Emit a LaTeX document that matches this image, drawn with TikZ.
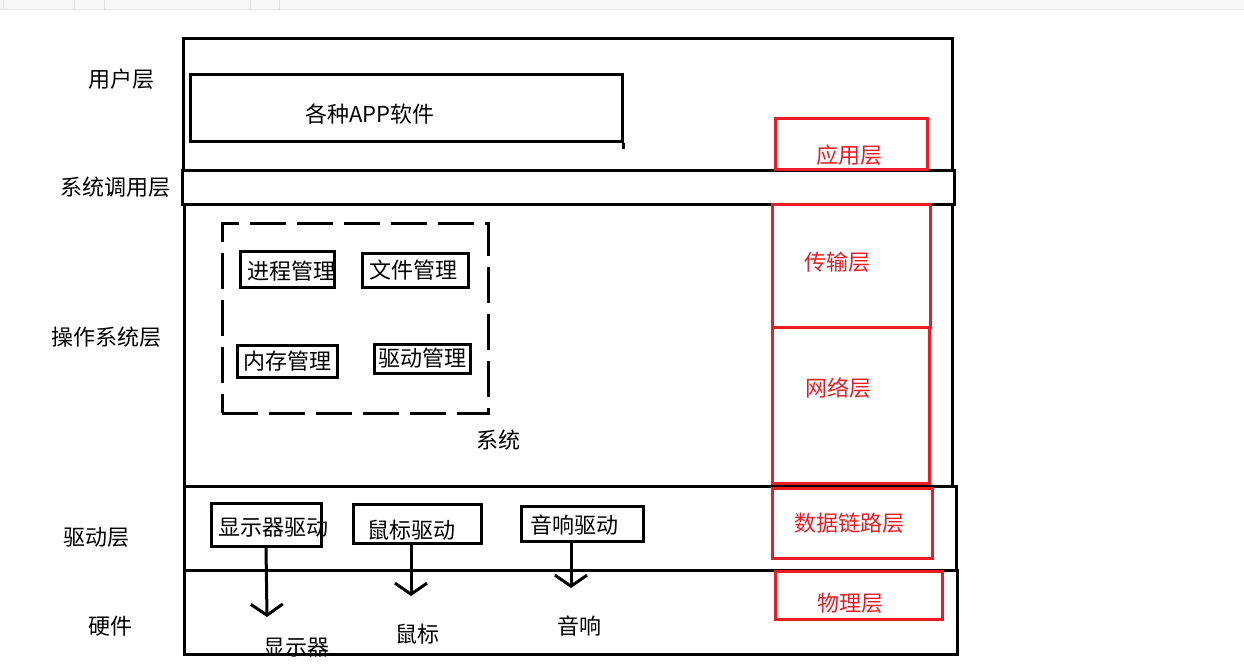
\documentclass[tikz,border=0pt]{standalone}
\usepackage{fontspec}
\setmainfont{Noto Sans CJK SC}
\usetikzlibrary{arrows.meta}
\definecolor{pred}{HTML}{ED1C24}
\definecolor{bandgray}{HTML}{F8F8F8}
\definecolor{bandline}{HTML}{E2E2E2}
\tikzset{
  box/.style={draw=black, line width=3pt, rectangle, inner sep=0pt},
  redbox/.style={draw=pred, line width=3pt, rectangle, inner sep=0pt},
  txt/.style={inner sep=0pt, font=\fontsize{22}{26}\selectfont, text=black},
  redtxt/.style={inner sep=0pt, font=\fontsize{22}{26}\selectfont, text=pred},
  arr/.style={line width=3pt, -{Straight Barb[length=11pt,width=32pt]}},
  dashbox/.style={draw=black, line width=3pt, dash pattern=on 36pt off 11pt}
}
\begin{document}
\begin{tikzpicture}[x=1pt,y=-1pt]
\useasboundingbox (0,0) rectangle (1244,670);
% top band of the screenshot
\fill[bandgray] (0,0) rectangle (1244,9);
\draw[bandline, line width=1pt] (0,9.5) -- (1244,9.5);
\foreach \sx in {3,74,104,250,279} \draw[bandline, line width=0.7pt] (\sx,0) -- (\sx,9);

% layer frames
\node[box, minimum width=769, minimum height=132] (user) at (567.5,104) {};
\node[box, minimum width=772, minimum height=34] (syscall) at (568,187) {};
\node[box, minimum width=768, minimum height=282] (os) at (568,345) {};
\node[box, minimum width=772, minimum height=84] (drv) at (570,528) {};
\node[box, minimum width=773, minimum height=84] (hw) at (570.5,612) {};

% left labels
\node[txt] (luser) at (121,79) {用户层};
\node[txt] (lsys) at (115,187) {系统调用层};
\node[txt] (los) at (106,337) {操作系统层};
\node[txt] (ldrv) at (96,537) {驱动层};
\node[txt] (lhw) at (110,626) {硬件};

% app box
\node[box, minimum width=432, minimum height=67] (app) at (406,107.5) {};
\draw[line width=3pt] (app.south east) -- ++(0,6);
\node[txt] (apptxt) at (370,114) {各种APP软件};

% system dashed box
\node[dashbox, minimum width=266, minimum height=190] (sysbox) at (355,318) {};
\node[txt] (systxt) at (498,440) {系统};

\node[box, minimum width=94, minimum height=36] (procbox) at (287,269) {};
\node[txt] (proc) at (291,271) {进程管理};
\node[box, minimum width=106, minimum height=34] (filebox) at (415,270) {};
\node[txt] (file) at (413,270) {文件管理};
\node[box, minimum width=100, minimum height=32] (membox) at (287,361) {};
\node[txt] (mem) at (287,361) {内存管理};
\node[box, minimum width=96, minimum height=29] (drvmbox) at (422,358.5) {};
\node[txt] (drvm) at (422,358) {驱动管理};

% driver boxes
\node[box, minimum width=110, minimum height=43] (dispbox) at (266,524.5) {};
\node[txt] (disp) at (273,527) {显示器驱动};
\node[box, minimum width=128, minimum height=39] (mousebox) at (417,523.5) {};
\node[txt] (mouse) at (411,530) {鼠标驱动};
\node[box, minimum width=122, minimum height=35] (soundbox) at (582,523.5) {};
\node[txt] (sound) at (574,525) {音响驱动};

% hardware
\node[txt] (dispdev) at (296,648) {显示器};
\node[txt] (mousedev) at (417,634) {鼠标};
\node[txt] (sounddev) at (579,626) {音响};

\coordinate (dispend) at (267,617);
\coordinate (mouseend) at (411,596);
\coordinate (soundend) at (571,588);
\draw[arr] (dispbox.south) -- (dispend);
\draw[arr] (mousebox.south -| mouseend) -- (mouseend);
\draw[arr] (soundbox.south -| soundend) -- (soundend);

% red network layers
\node[redbox, minimum width=152, minimum height=51] (applayer) at (851,143.5) {};
\node[redtxt] (applayertxt) at (849,155) {应用层};
\node[redbox, minimum width=158, minimum height=123] (translayer) at (851,265.5) {};
\node[redtxt] (transtxt) at (837,262) {传输层};
\node[redbox, minimum width=157, minimum height=156] (netlayer) at (850.5,405) {};
\node[redtxt] (nettxt) at (838,388) {网络层};
\node[redbox, minimum width=160, minimum height=70] (linklayer) at (852,523) {};
\node[redtxt] (linktxt) at (849,523) {数据链路层};
\node[redbox, minimum width=167, minimum height=48] (phylayer) at (858.5,595) {};
\node[redtxt] (phytxt) at (850,603) {物理层};
\end{tikzpicture}
\end{document}
